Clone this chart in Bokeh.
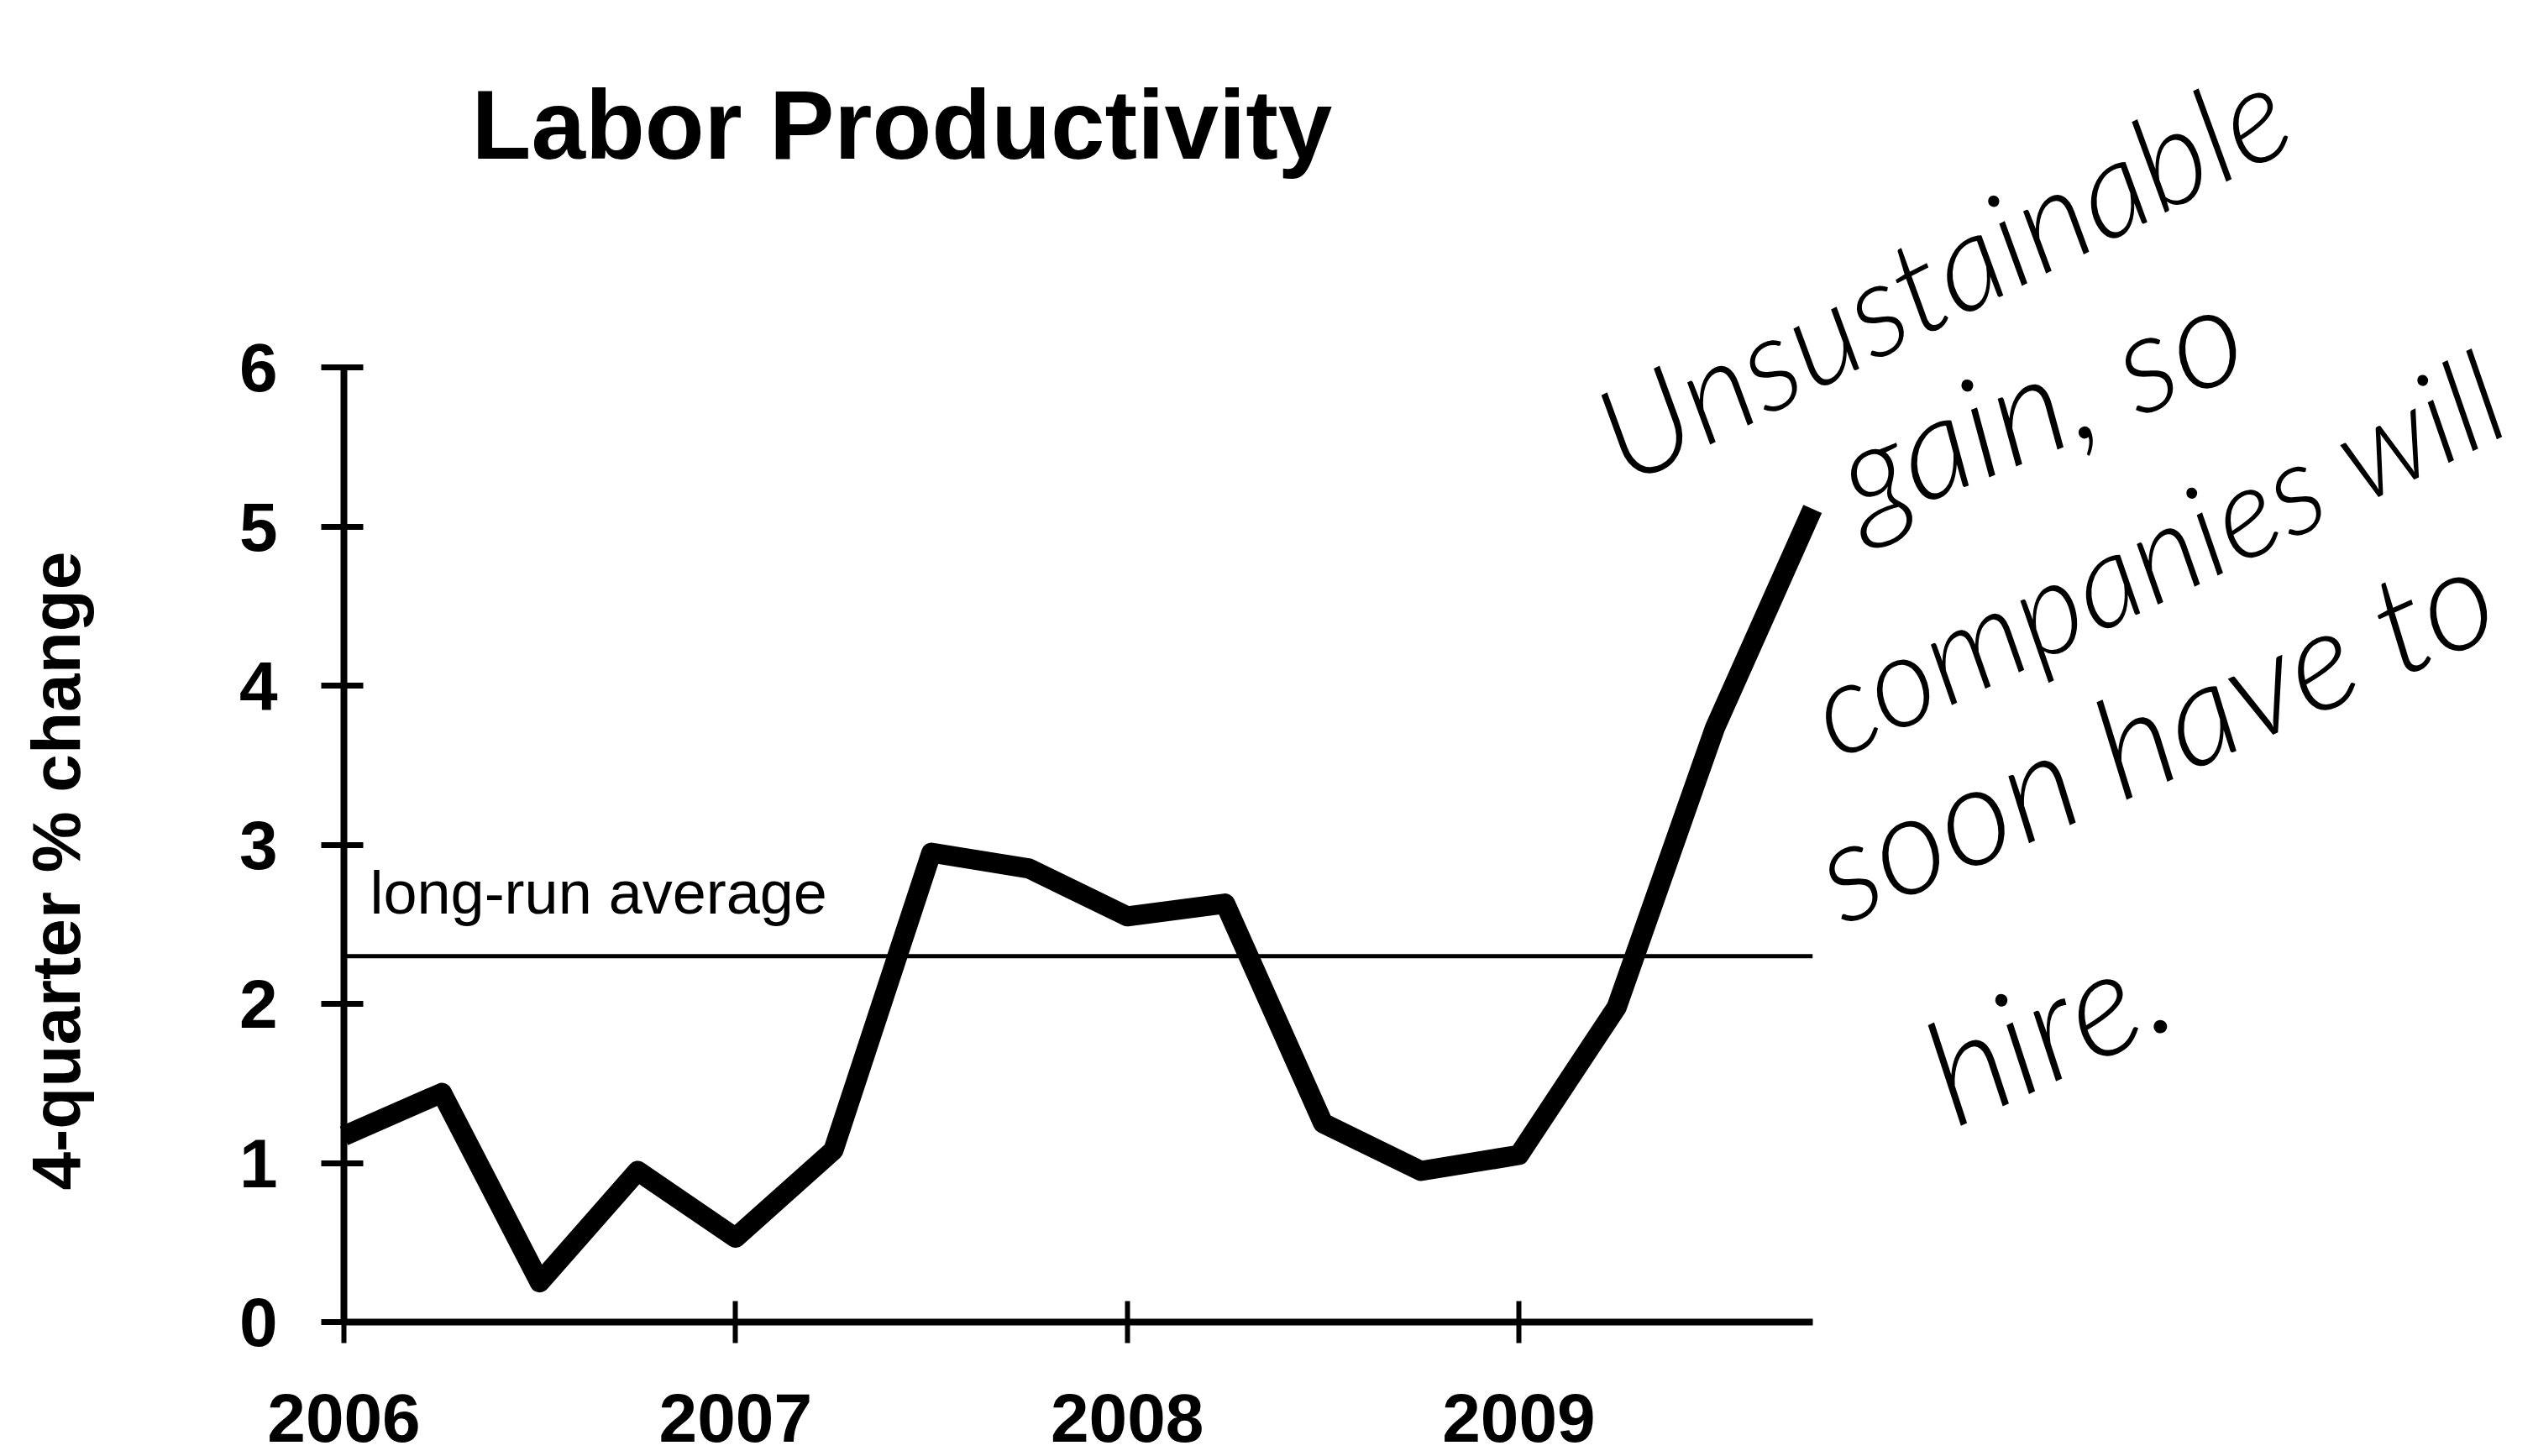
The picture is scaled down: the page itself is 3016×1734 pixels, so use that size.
import math
from bokeh.plotting import figure
from bokeh.models import Range1d, Label, FixedTicker
from bokeh.embed import file_html
from bokeh.resources import INLINE

# ---- data ----
quarters = [2006.0, 2006.25, 2006.5, 2006.75,
            2007.0, 2007.25, 2007.5, 2007.75,
            2008.0, 2008.25, 2008.5, 2008.75,
            2009.0, 2009.25, 2009.5, 2009.75]
productivity = [1.17, 1.44, 0.25, 0.95,
                0.53, 1.08, 2.95, 2.85,
                2.55, 2.63, 1.25, 0.95,
                1.05, 1.98, 3.73, 5.11]
year_ticks = [2006, 2007, 2008, 2009]
y_ticks = [0, 1, 2, 3, 4, 5, 6]
long_run_average = 2.3

title_text = "Labor Productivity"
y_label = "4-quarter % change"
avg_label = "long-run average"
note_lines = ["Unsustainable", "gain, so", "companies will", "soon have to", "hire."]

FONT = "Liberation Sans"
HAND = "Lato Light"

# ---- layout: the frame fills the whole canvas, axes are pinned inside it ----
W, H = 3016, 1734
PX_PER_YEAR = 466.33
PX_PER_UNIT = 189.5
AXIS_X_PX = 409      # where 2006 sits
AXIS_Y_PX = 1574     # where 0 sits (from top)
BASE_FIX = 0.36      # baseline compensation (fraction of font size)
x0 = year_ticks[0]
x_range = Range1d(x0 - AXIS_X_PX / PX_PER_YEAR, x0 + (W - AXIS_X_PX) / PX_PER_YEAR)
y_range = Range1d(-(H - AXIS_Y_PX) / PX_PER_UNIT, AXIS_Y_PX / PX_PER_UNIT)

p = figure(width=W, height=H, output_backend="svg", toolbar_location=None,
           title_location=None, x_range=x_range, y_range=y_range,
           min_border=0, min_border_left=0, min_border_right=0,
           min_border_top=0, min_border_bottom=0)
p.outline_line_color = None
p.xgrid.visible = False
p.ygrid.visible = False
p.background_fill_color = "white"
p.border_fill_color = "white"


def add_text(text, x, y, size, angle_deg=0.0, font=FONT, style="normal", align="left"):
    """Place text with its baseline at (x, y) in data units."""
    a = math.radians(angle_deg)
    s = BASE_FIX * size
    xx = x - math.sin(a) * s / PX_PER_YEAR
    yy = y + math.cos(a) * s / PX_PER_UNIT
    p.add_layout(Label(x=xx, y=yy, text=text, angle=a,
                       text_font=font, text_font_style=style,
                       text_font_size=f"{size}px", text_color="black",
                       text_baseline="alphabetic", text_align=align))


# x axis
xa = p.xaxis[0]
xa.fixed_location = y_ticks[0]
xa.bounds = (quarters[0], quarters[-1])
xa.ticker = FixedTicker(ticks=year_ticks)
xa.minor_tick_line_color = None
xa.axis_line_width = 8
xa.axis_line_color = "black"
xa.major_tick_line_width = 6
xa.major_tick_line_color = "black"
xa.major_tick_in = 25
xa.major_tick_out = 25
xa.major_label_standoff = 60
xa.major_label_text_font = FONT
xa.major_label_text_font_style = "bold"
xa.major_label_text_font_size = "82px"
xa.major_label_text_color = "black"

# y axis
ya = p.yaxis[0]
ya.fixed_location = quarters[0]
ya.bounds = (y_ticks[0], y_ticks[-1])
ya.ticker = FixedTicker(ticks=y_ticks)
ya.minor_tick_line_color = None
ya.axis_line_width = 8
ya.axis_line_color = "black"
ya.major_tick_line_width = 7
ya.major_tick_line_color = "black"
ya.major_tick_in = 23
ya.major_tick_out = 27
ya.major_label_standoff = 52
ya.major_label_text_font = FONT
ya.major_label_text_font_style = "bold"
ya.major_label_text_font_size = "82px"
ya.major_label_text_color = "black"

# y axis title
add_text(y_label, 2005.3267, 2.836, 82, angle_deg=90, style="bold", align="center")

# long-run average line
p.segment(x0=[quarters[0]], y0=[long_run_average],
          x1=[quarters[-1]], y1=[long_run_average],
          line_color="black", line_width=5)
add_text(avg_label, 2006.0665, 2.565, 72)

# main series
p.line(quarters, productivity, line_color="black", line_width=24,
       line_join="round", line_cap="butt")

# title
add_text(title_text, 2006.326, 7.303, 116, style="bold")

# handwritten note
note_pos = [(2009.2724, 5.270, 27, 157),
            (2009.8707, 5.008, 22, 166),
            (2009.8085, 3.546, 26, 152),
            (2009.8235, 2.512, 24, 166),
            (2010.1108, 1.240, 25, 172)]
for txt, (nx, ny, ang, fs) in zip(note_lines, note_pos):
    add_text(txt, nx, ny, fs, angle_deg=ang, font=HAND, style="italic")

open("out.html", "w").write(file_html(p, INLINE))
